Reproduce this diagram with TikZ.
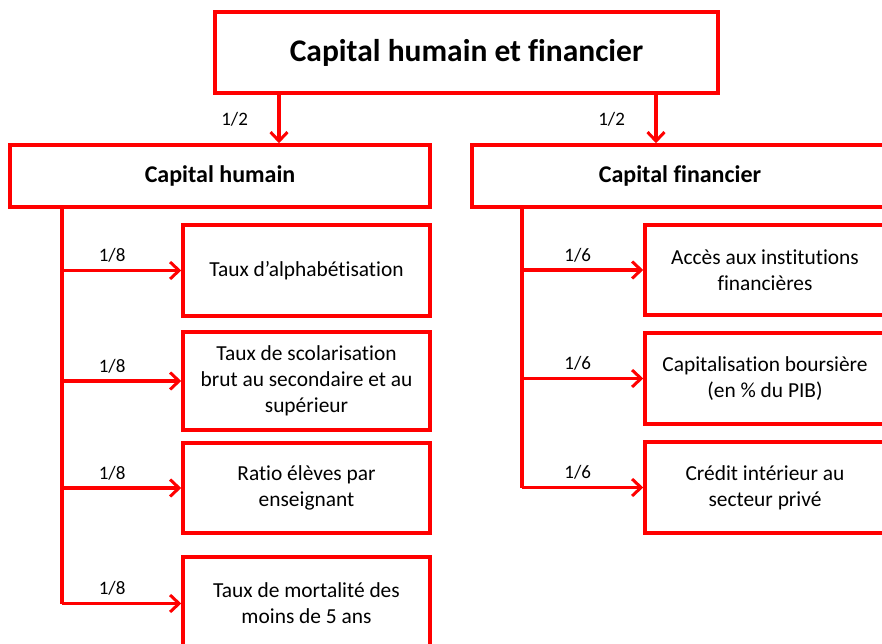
\documentclass[tikz,border=0pt]{standalone}
\usepackage{fontspec}
\setmainfont[Ligatures=NoCommon]{Carlito}
\usetikzlibrary{arrows.meta,calc}

\tikzset{
  box/.style={rectangle,draw=red,line width=3.5pt,align=center,font=\fontsize{21.4}{26}\selectfont,inner sep=0pt},
  arr/.style={draw=red,line width=3.5pt,-{Straight Barb[length=9pt,width=17pt,line width=3pt]}},
  trunk/.style={draw=red,line width=3.5pt},
  wlab/.style={font=\fontsize{19}{22}\selectfont,above=3pt}
}

\begin{document}
\begin{tikzpicture}[x=1pt,y=-1pt]
\useasboundingbox (0,0) rectangle (882,644);

% Top level
\node[box,minimum width=503,minimum height=81,font=\fontsize{31.5}{36}\selectfont\bfseries] (total) at (466.5,52.5) {Capital humain et financier};
\node[box,minimum width=420,minimum height=62,font=\fontsize{24}{28}\selectfont\bfseries] (hum) at (220,176) {Capital humain};
\node[box,minimum width=416,minimum height=62,font=\fontsize{24}{28}\selectfont\bfseries] (fin) at (680,176) {Capital financier};

\draw[arr] (total.south -| 279,0) -- (279,0 |- hum.north) node[midway,left=26pt,font=\fontsize{19}{22}\selectfont] {1/2};
\draw[arr] (total.south -| 656,0) -- (656,0 |- fin.north) node[midway,left=26pt,font=\fontsize{19}{22}\selectfont] {1/2};

% Capital humain indicators
\node[box,minimum width=247,minimum height=91] (h1) at (306.5,270.5) {Taux d’alphabétisation};
\node[box,minimum width=247,minimum height=98] (h2) at (306.5,381) {Taux de scolarisation\\brut au secondaire et au\\supérieur};
\node[box,minimum width=247,minimum height=90] (h3) at (306.5,488) {Ratio élèves par\\enseignant};
\node[box,minimum width=247,minimum height=93] (h4) at (306.5,603.5) {Taux de mortalité des\\moins de 5 ans};

\coordinate (htop) at (hum.south -| 62,0);
\draw[trunk] (htop) -- (htop |- h4.west);
\foreach \n in {h1,h2,h3,h4}
  \draw[arr] (htop |- \n.west) -- (\n.west) node[pos=0.42,wlab] {1/8};

% Capital financier indicators
\node[box,minimum width=240,minimum height=90] (f1) at (765,270) {Accès aux institutions\\financières};
\node[box,minimum width=240,minimum height=91] (f2) at (765,378.5) {Capitalisation boursière\\(en \% du PIB)};
\node[box,minimum width=240,minimum height=91] (f3) at (765,487.5) {Crédit intérieur au\\secteur privé};

\coordinate (ftop) at (fin.south -| 522,0);
\draw[trunk] (ftop) -- (ftop |- f3.west);
\foreach \n in {f1,f2,f3}
  \draw[arr] (ftop |- \n.west) -- (\n.west) node[pos=0.46,wlab] {1/6};
\end{tikzpicture}
\end{document}
